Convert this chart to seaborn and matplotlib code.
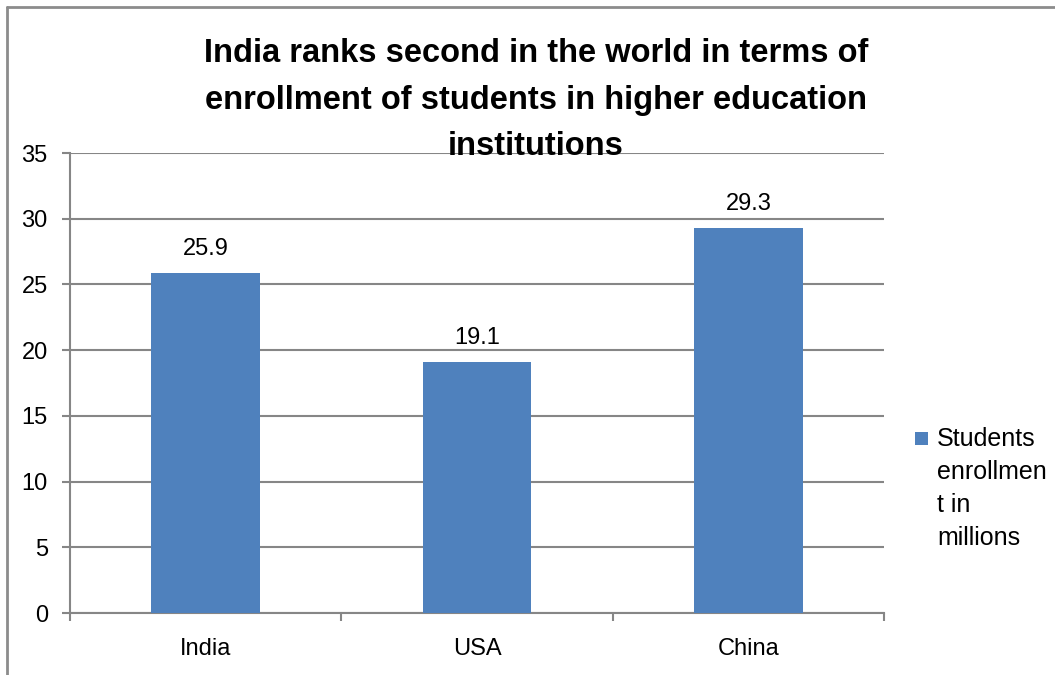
import matplotlib
matplotlib.use("Agg")
import matplotlib.pyplot as plt
from matplotlib.lines import Line2D
from matplotlib.patches import Rectangle
from matplotlib.ticker import FixedLocator
import seaborn as sns
import pandas as pd

countries = ["India", "USA", "China"]
enrollment = [25.9, 19.1, 29.3]
series_label = "Students\nenrollmen\nt in\nmillions"
title_text = ("India ranks second in the world in terms of\n"
              "enrollment of students in higher education\n"
              "institutions")
y_ticks = [0, 5, 10, 15, 20, 25, 30, 35]

sns.set_theme(style="white")
plt.rcParams['font.family'] = ['Liberation Sans', 'DejaVu Sans']

BAR = "#4F81BD"
GRID = "#868686"

W, H = 1055, 675
fig = plt.figure(figsize=(W / 100, H / 100), dpi=100)
ax = fig.add_axes([70 / W, 1 - 613 / H, (884 - 70) / W, (613 - 153) / H])

df = pd.DataFrame({"country": countries, "value": enrollment})
sns.barplot(data=df, x="country", y="value", color=BAR, width=0.4,
            saturation=1, linewidth=0, edgecolor="none", ax=ax, zorder=3)

ax.set_xlim(-0.5, 2.5)
ax.set_ylim(0, 35)
ax.set_yticks(y_ticks)
ax.yaxis.grid(True, color=GRID, linewidth=1.5, zorder=0)
ax.set_axisbelow(True)
for s in ["top", "right"]:
    ax.spines[s].set_visible(False)
for s in ["left", "bottom"]:
    ax.spines[s].set_color(GRID)
    ax.spines[s].set_linewidth(1.5)
ax.set_xlabel("")
ax.set_ylabel("")

ax.tick_params(axis="y", which="major", direction="out", length=6, width=1.5,
               color=GRID, labelsize=17, labelcolor="black", pad=10, left=True)
ax.tick_params(axis="x", which="major", length=0, labelsize=17,
               labelcolor="black", pad=18)
ax.xaxis.set_minor_locator(FixedLocator([-0.5, 0.5, 1.5, 2.5]))
ax.tick_params(axis="x", which="minor", direction="out", length=6, width=1.5,
               color=GRID, bottom=True)

for c in ax.containers:
    ax.bar_label(c, labels=[f"{v:.1f}" for v in enrollment], padding=9,
                 fontsize=17, color="black")

fig.text(536 / W, 1 - 100 / H, title_text, ha="center", va="center",
         fontsize=23.5, fontweight="bold", color="black", linespacing=1.66)

# legend
fig.patches.append(Rectangle((915 / W, 1 - 445 / H), 13 / W, 13 / H,
                             transform=fig.transFigure, facecolor=BAR,
                             edgecolor="none"))
fig.text(937 / W, 1 - 427 / H, series_label, ha="left", va="top",
         fontsize=18, color="black", linespacing=1.47)

# chart border
fig.add_artist(Line2D([7 / W, 7 / W], [0, 1 - 7 / H], transform=fig.transFigure,
                      color="#8c8c8c", linewidth=2))
fig.add_artist(Line2D([7 / W, 1], [1 - 7 / H, 1 - 7 / H], transform=fig.transFigure,
                      color="#8c8c8c", linewidth=2))

fig.savefig("out.png", dpi=100, facecolor="white")
